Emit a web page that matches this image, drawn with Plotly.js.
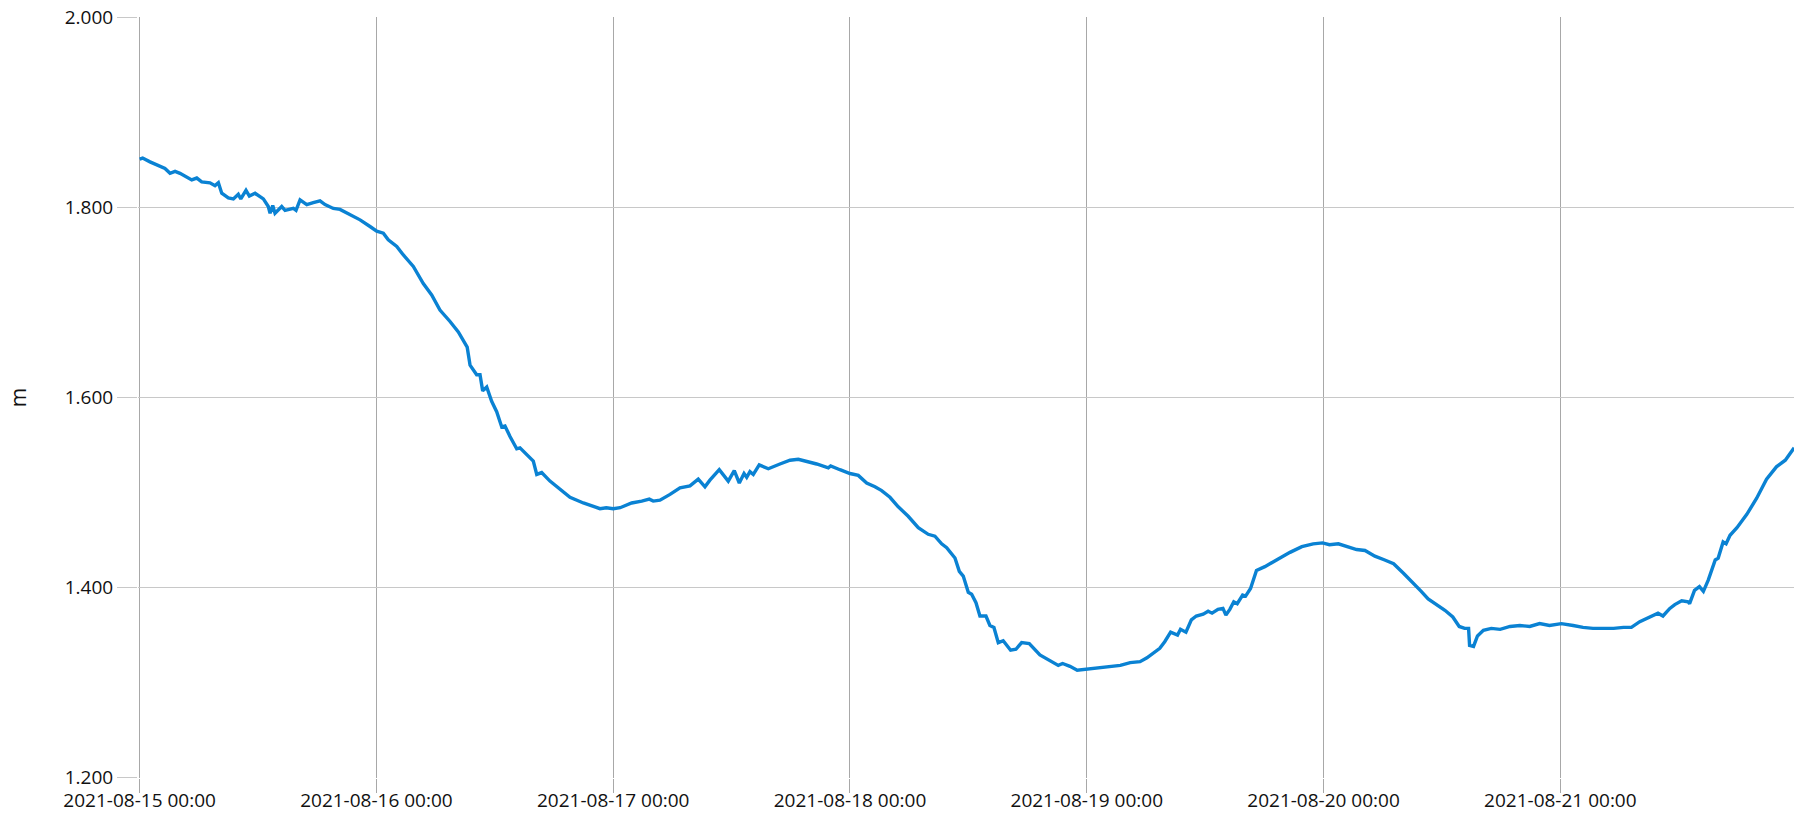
<!DOCTYPE html>
<html>
<head>
<meta charset="utf-8">
<script src="https://cdn.plot.ly/plotly-3.0.1.min.js"></script>
<style>
  html, body { margin: 0; padding: 0; background: #ffffff; }
  #chart { width: 1794px; height: 815px; }
</style>
</head>
<body>
<div id="chart"></div>
<script>
// ---- data ----
const startTime = "2021-08-15 00:00:00";
const yAxisTitle = "m";
const hoursFromStart = [
  0.0, 0.3, 1.05, 2.07, 2.57, 3.08, 3.59, 4.09, 5.28, 5.79, 6.29, 7.13, 7.64, 7.98, 8.32, 8.99, 9.5, 10.0, 10.25, 10.78,
  11.12, 11.7, 12.54, 13.04, 13.22, 13.49, 13.72, 14.4, 14.74, 15.58, 15.85, 16.26, 16.94, 17.6, 18.28, 18.79, 19.63, 20.31, 21.32, 22.34,
  23.35, 24.03, 24.7, 25.2, 26.06, 26.73, 27.74, 28.75, 29.6, 30.44, 31.46, 32.3, 33.2, 33.49, 34.16, 34.5, 34.77, 35.18, 35.68, 36.19,
  36.7, 37.03, 37.54, 38.22, 38.55, 39.23, 39.9, 40.25, 40.75, 41.59, 42.6, 43.62, 44.97, 46.66, 47.3, 48.0, 48.7, 49.87, 50.89, 51.66,
  52.06, 52.74, 53.76, 54.77, 55.78, 56.62, 57.3, 57.8, 58.75, 59.16, 59.66, 60.27, 60.78, 61.26, 61.53, 61.86, 62.2, 62.8, 63.38, 63.72,
  64.9, 65.92, 66.76, 67.6, 68.62, 69.8, 70.04, 70.98, 72.0, 72.84, 73.69, 74.53, 75.21, 76.05, 76.89, 77.9, 78.92, 79.93, 80.61, 81.29,
  81.8, 82.64, 83.08, 83.48, 83.99, 84.33, 84.77, 85.17, 85.78, 86.18, 86.59, 87.03, 87.53, 88.28, 88.82, 89.4, 90.17, 91.25, 92.27, 93.11,
  93.55, 94.3, 95.03, 96.0, 97.3, 98.3, 99.4, 100.4, 101.4, 102.1, 102.7, 103.4, 103.9, 104.5, 105.2, 105.5, 106.05, 106.6, 107.1, 107.8,
  108.3, 108.7, 109.3, 109.8, 110.1, 110.5, 110.9, 111.25, 111.8, 112.1, 112.6, 113.2, 114.05, 114.7, 115.4, 116.6, 117.8, 118.95, 119.9, 120.6,
  121.5, 122.3, 123.35, 124.2, 125.2, 126.2, 127.1, 128.1, 129.1, 129.9, 130.6, 131.5, 132.3, 133.1, 133.75, 134.3, 134.7, 134.8, 135.2, 135.6,
  136.2, 137.0, 137.9, 138.9, 139.9, 140.9, 141.9, 142.9, 144.1, 145.3, 146.3, 147.3, 148.3, 149.4, 150.4, 151.2, 152.05, 152.9, 153.9, 154.4,
  155.1, 155.6, 156.3, 156.95, 157.1, 157.6, 158.1, 158.5, 159.0, 159.7, 160.0, 160.5, 160.8, 161.2, 161.9, 162.9, 163.9, 164.9, 165.9, 166.8,
  167.3, 167.7
];
const waterLevel = [
  1.851, 1.852, 1.848, 1.843, 1.841, 1.836, 1.838, 1.836, 1.829, 1.831, 1.827, 1.826, 1.823, 1.826, 1.815, 1.810, 1.809, 1.814, 1.809, 1.818,
  1.812, 1.815, 1.809, 1.801, 1.794, 1.802, 1.794, 1.801, 1.797, 1.799, 1.797, 1.808, 1.803, 1.805, 1.807, 1.803, 1.799, 1.798, 1.793, 1.787,
  1.780, 1.775, 1.773, 1.766, 1.759, 1.750, 1.738, 1.720, 1.708, 1.692, 1.680, 1.669, 1.653, 1.634, 1.624, 1.624, 1.607, 1.611, 1.596, 1.585,
  1.569, 1.570, 1.559, 1.546, 1.547, 1.540, 1.533, 1.519, 1.521, 1.512, 1.503, 1.495, 1.489, 1.483, 1.484, 1.483, 1.484, 1.489, 1.491, 1.493,
  1.491, 1.492, 1.498, 1.505, 1.507, 1.514, 1.506, 1.513, 1.524, 1.519, 1.512, 1.523, 1.510, 1.520, 1.516, 1.522, 1.519, 1.529, 1.527, 1.525,
  1.530, 1.534, 1.535, 1.533, 1.530, 1.526, 1.528, 1.524, 1.520, 1.518, 1.510, 1.506, 1.502, 1.495, 1.485, 1.475, 1.463, 1.456, 1.454, 1.446,
  1.442, 1.431, 1.417, 1.412, 1.395, 1.393, 1.384, 1.370, 1.370, 1.360, 1.358, 1.342, 1.344, 1.334, 1.335, 1.342, 1.341, 1.329, 1.323, 1.318,
  1.320, 1.317, 1.313, 1.314, 1.315, 1.316, 1.318, 1.321, 1.322, 1.326, 1.331, 1.336, 1.343, 1.353, 1.350, 1.356, 1.353, 1.366, 1.370, 1.372,
  1.375, 1.373, 1.377, 1.378, 1.371, 1.377, 1.385, 1.383, 1.392, 1.391, 1.399, 1.418, 1.422, 1.426, 1.430, 1.437, 1.443, 1.446, 1.447, 1.445,
  1.446, 1.443, 1.440, 1.439, 1.433, 1.429, 1.425, 1.415, 1.405, 1.396, 1.388, 1.382, 1.376, 1.369, 1.359, 1.357, 1.357, 1.339, 1.338, 1.349,
  1.355, 1.357, 1.356, 1.359, 1.360, 1.359, 1.362, 1.360, 1.362, 1.360, 1.358, 1.357, 1.357, 1.357, 1.358, 1.358, 1.364, 1.368, 1.373, 1.370,
  1.378, 1.382, 1.386, 1.385, 1.383, 1.397, 1.401, 1.396, 1.408, 1.429, 1.431, 1.448, 1.446, 1.455, 1.463, 1.477, 1.494, 1.514, 1.527, 1.534,
  1.542, 1.547
];
const xRange = ["2021-08-14 23:50:00", "2021-08-21 23:41:00"];
const yRange = [1.1995, 2.0005];
const yTickValues = [1.2, 1.4, 1.6, 1.8, 2.0];

// ---- convert hour offsets to timestamps ----
function pad(n) { return (n < 10 ? "0" : "") + n; }
const startMs = Date.UTC(2021, 7, 15, 0, 0, 0);
const times = hoursFromStart.map(h => {
  const d = new Date(startMs + Math.round(h * 3600) * 1000);
  return d.getUTCFullYear() + "-" + pad(d.getUTCMonth() + 1) + "-" + pad(d.getUTCDate()) + " " +
         pad(d.getUTCHours()) + ":" + pad(d.getUTCMinutes()) + ":" + pad(d.getUTCSeconds());
});

const trace = {
  x: times,
  y: waterLevel,
  type: "scatter",
  mode: "lines",
  line: { color: "#0a82d3", width: 3.4 },
  hoverinfo: "x+y"
};

const font = { family: "'Open Sans', 'Noto Sans', sans-serif", size: 19, color: "#111111" };

const layout = {
  width: 1794,
  height: 815,
  margin: { l: 138, r: 0, t: 17, b: 37, pad: 0 },
  paper_bgcolor: "#ffffff",
  plot_bgcolor: "#ffffff",
  showlegend: false,
  font: font,
  xaxis: {
    type: "date",
    range: xRange,
    dtick: 86400000,
    tick0: "2021-08-15 00:00:00",
    tickformat: "%Y-%m-%d %H:%M",
    showgrid: true,
    gridcolor: "#a8a8a8",
    gridwidth: 1,
    ticks: "outside",
    ticklen: 14,
    tickcolor: "#a8a8a8",
    tickwidth: 1,
    ticklabelstandoff: -9,
    showline: false,
    zeroline: false,
    tickfont: font,
    automargin: false
  },
  yaxis: {
    range: yRange,
    tickvals: yTickValues,
    tickformat: ".3f",
    showgrid: true,
    gridcolor: "#c8c8c8",
    gridwidth: 1,
    ticks: "outside",
    ticklen: 20,
    tickcolor: "#c8c8c8",
    tickwidth: 1,
    showline: false,
    zeroline: false,
    tickfont: font,
    automargin: false,
    title: { text: yAxisTitle, font: { family: font.family, size: 21, color: "#111111" }, standoff: 32 }
  }
};

Plotly.newPlot("chart", [trace], layout, { staticPlot: true, displayModeBar: false });
</script>
</body>
</html>
